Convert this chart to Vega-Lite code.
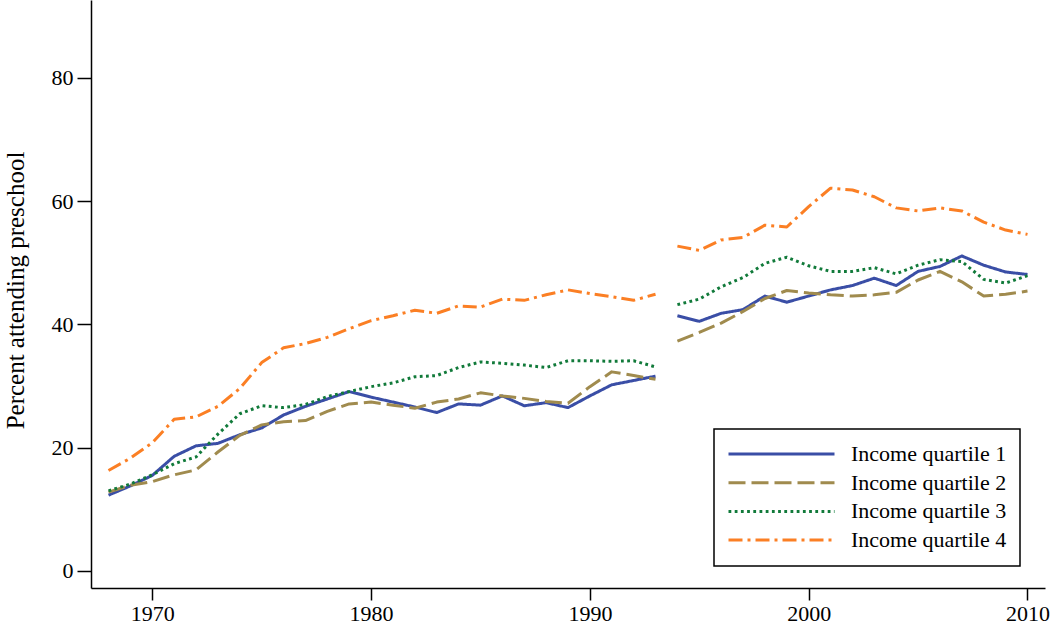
{
  "$schema": "https://vega.github.io/schema/vega-lite/v6.json",
  "width": 954,
  "height": 588,
  "autosize": {"type": "none"},
  "padding": {"left": 91, "top": 0, "right": 5, "bottom": 36},
  "background": "white",
  "config": {
    "view": {"stroke": null},
    "font": "Liberation Serif"
  },
  "data": {
    "values": [
      {"year":1968,"q":"Income quartile 1","period":1,"v":12.3},
      {"year":1969,"q":"Income quartile 1","period":1,"v":13.8},
      {"year":1970,"q":"Income quartile 1","period":1,"v":15.5},
      {"year":1971,"q":"Income quartile 1","period":1,"v":18.6},
      {"year":1972,"q":"Income quartile 1","period":1,"v":20.3},
      {"year":1973,"q":"Income quartile 1","period":1,"v":20.7},
      {"year":1974,"q":"Income quartile 1","period":1,"v":22.1},
      {"year":1975,"q":"Income quartile 1","period":1,"v":23.2},
      {"year":1976,"q":"Income quartile 1","period":1,"v":25.3},
      {"year":1977,"q":"Income quartile 1","period":1,"v":26.7},
      {"year":1978,"q":"Income quartile 1","period":1,"v":27.9},
      {"year":1979,"q":"Income quartile 1","period":1,"v":29.1},
      {"year":1980,"q":"Income quartile 1","period":1,"v":28.2},
      {"year":1981,"q":"Income quartile 1","period":1,"v":27.4},
      {"year":1982,"q":"Income quartile 1","period":1,"v":26.6},
      {"year":1983,"q":"Income quartile 1","period":1,"v":25.7},
      {"year":1984,"q":"Income quartile 1","period":1,"v":27.1},
      {"year":1985,"q":"Income quartile 1","period":1,"v":26.9},
      {"year":1986,"q":"Income quartile 1","period":1,"v":28.4},
      {"year":1987,"q":"Income quartile 1","period":1,"v":26.8},
      {"year":1988,"q":"Income quartile 1","period":1,"v":27.3},
      {"year":1989,"q":"Income quartile 1","period":1,"v":26.5},
      {"year":1990,"q":"Income quartile 1","period":1,"v":28.4},
      {"year":1991,"q":"Income quartile 1","period":1,"v":30.2},
      {"year":1992,"q":"Income quartile 1","period":1,"v":30.9},
      {"year":1993,"q":"Income quartile 1","period":1,"v":31.6},
      {"year":1994,"q":"Income quartile 1","period":2,"v":41.4},
      {"year":1995,"q":"Income quartile 1","period":2,"v":40.5},
      {"year":1996,"q":"Income quartile 1","period":2,"v":41.8},
      {"year":1997,"q":"Income quartile 1","period":2,"v":42.4},
      {"year":1998,"q":"Income quartile 1","period":2,"v":44.6},
      {"year":1999,"q":"Income quartile 1","period":2,"v":43.6},
      {"year":2000,"q":"Income quartile 1","period":2,"v":44.6},
      {"year":2001,"q":"Income quartile 1","period":2,"v":45.6},
      {"year":2002,"q":"Income quartile 1","period":2,"v":46.3},
      {"year":2003,"q":"Income quartile 1","period":2,"v":47.5},
      {"year":2004,"q":"Income quartile 1","period":2,"v":46.3},
      {"year":2005,"q":"Income quartile 1","period":2,"v":48.6},
      {"year":2006,"q":"Income quartile 1","period":2,"v":49.4},
      {"year":2007,"q":"Income quartile 1","period":2,"v":51.1},
      {"year":2008,"q":"Income quartile 1","period":2,"v":49.6},
      {"year":2009,"q":"Income quartile 1","period":2,"v":48.5},
      {"year":2010,"q":"Income quartile 1","period":2,"v":48.1},

      {"year":1968,"q":"Income quartile 2","period":1,"v":12.8},
      {"year":1969,"q":"Income quartile 2","period":1,"v":13.9},
      {"year":1970,"q":"Income quartile 2","period":1,"v":14.5},
      {"year":1971,"q":"Income quartile 2","period":1,"v":15.6},
      {"year":1972,"q":"Income quartile 2","period":1,"v":16.4},
      {"year":1973,"q":"Income quartile 2","period":1,"v":19.3},
      {"year":1974,"q":"Income quartile 2","period":1,"v":22.0},
      {"year":1975,"q":"Income quartile 2","period":1,"v":23.7},
      {"year":1976,"q":"Income quartile 2","period":1,"v":24.2},
      {"year":1977,"q":"Income quartile 2","period":1,"v":24.4},
      {"year":1978,"q":"Income quartile 2","period":1,"v":25.9},
      {"year":1979,"q":"Income quartile 2","period":1,"v":27.1},
      {"year":1980,"q":"Income quartile 2","period":1,"v":27.4},
      {"year":1981,"q":"Income quartile 2","period":1,"v":26.9},
      {"year":1982,"q":"Income quartile 2","period":1,"v":26.4},
      {"year":1983,"q":"Income quartile 2","period":1,"v":27.4},
      {"year":1984,"q":"Income quartile 2","period":1,"v":27.9},
      {"year":1985,"q":"Income quartile 2","period":1,"v":28.9},
      {"year":1986,"q":"Income quartile 2","period":1,"v":28.4},
      {"year":1987,"q":"Income quartile 2","period":1,"v":28.0},
      {"year":1988,"q":"Income quartile 2","period":1,"v":27.5},
      {"year":1989,"q":"Income quartile 2","period":1,"v":27.2},
      {"year":1990,"q":"Income quartile 2","period":1,"v":29.9},
      {"year":1991,"q":"Income quartile 2","period":1,"v":32.3},
      {"year":1992,"q":"Income quartile 2","period":1,"v":31.7},
      {"year":1993,"q":"Income quartile 2","period":1,"v":31.1},
      {"year":1994,"q":"Income quartile 2","period":2,"v":37.3},
      {"year":1995,"q":"Income quartile 2","period":2,"v":38.7},
      {"year":1996,"q":"Income quartile 2","period":2,"v":40.2},
      {"year":1997,"q":"Income quartile 2","period":2,"v":42.1},
      {"year":1998,"q":"Income quartile 2","period":2,"v":44.2},
      {"year":1999,"q":"Income quartile 2","period":2,"v":45.5},
      {"year":2000,"q":"Income quartile 2","period":2,"v":45.1},
      {"year":2001,"q":"Income quartile 2","period":2,"v":44.8},
      {"year":2002,"q":"Income quartile 2","period":2,"v":44.6},
      {"year":2003,"q":"Income quartile 2","period":2,"v":44.8},
      {"year":2004,"q":"Income quartile 2","period":2,"v":45.2},
      {"year":2005,"q":"Income quartile 2","period":2,"v":47.2},
      {"year":2006,"q":"Income quartile 2","period":2,"v":48.6},
      {"year":2007,"q":"Income quartile 2","period":2,"v":46.9},
      {"year":2008,"q":"Income quartile 2","period":2,"v":44.6},
      {"year":2009,"q":"Income quartile 2","period":2,"v":44.9},
      {"year":2010,"q":"Income quartile 2","period":2,"v":45.4},

      {"year":1968,"q":"Income quartile 3","period":1,"v":13.0},
      {"year":1969,"q":"Income quartile 3","period":1,"v":14.1},
      {"year":1970,"q":"Income quartile 3","period":1,"v":15.6},
      {"year":1971,"q":"Income quartile 3","period":1,"v":17.4},
      {"year":1972,"q":"Income quartile 3","period":1,"v":18.5},
      {"year":1973,"q":"Income quartile 3","period":1,"v":22.2},
      {"year":1974,"q":"Income quartile 3","period":1,"v":25.5},
      {"year":1975,"q":"Income quartile 3","period":1,"v":26.8},
      {"year":1976,"q":"Income quartile 3","period":1,"v":26.5},
      {"year":1977,"q":"Income quartile 3","period":1,"v":27.0},
      {"year":1978,"q":"Income quartile 3","period":1,"v":28.3},
      {"year":1979,"q":"Income quartile 3","period":1,"v":29.1},
      {"year":1980,"q":"Income quartile 3","period":1,"v":29.9},
      {"year":1981,"q":"Income quartile 3","period":1,"v":30.5},
      {"year":1982,"q":"Income quartile 3","period":1,"v":31.5},
      {"year":1983,"q":"Income quartile 3","period":1,"v":31.7},
      {"year":1984,"q":"Income quartile 3","period":1,"v":33.0},
      {"year":1985,"q":"Income quartile 3","period":1,"v":33.9},
      {"year":1986,"q":"Income quartile 3","period":1,"v":33.7},
      {"year":1987,"q":"Income quartile 3","period":1,"v":33.4},
      {"year":1988,"q":"Income quartile 3","period":1,"v":33.0},
      {"year":1989,"q":"Income quartile 3","period":1,"v":34.1},
      {"year":1990,"q":"Income quartile 3","period":1,"v":34.1},
      {"year":1991,"q":"Income quartile 3","period":1,"v":34.0},
      {"year":1992,"q":"Income quartile 3","period":1,"v":34.1},
      {"year":1993,"q":"Income quartile 3","period":1,"v":33.1},
      {"year":1994,"q":"Income quartile 3","period":2,"v":43.2},
      {"year":1995,"q":"Income quartile 3","period":2,"v":44.1},
      {"year":1996,"q":"Income quartile 3","period":2,"v":46.1},
      {"year":1997,"q":"Income quartile 3","period":2,"v":47.6},
      {"year":1998,"q":"Income quartile 3","period":2,"v":49.9},
      {"year":1999,"q":"Income quartile 3","period":2,"v":50.9},
      {"year":2000,"q":"Income quartile 3","period":2,"v":49.5},
      {"year":2001,"q":"Income quartile 3","period":2,"v":48.6},
      {"year":2002,"q":"Income quartile 3","period":2,"v":48.6},
      {"year":2003,"q":"Income quartile 3","period":2,"v":49.2},
      {"year":2004,"q":"Income quartile 3","period":2,"v":48.2},
      {"year":2005,"q":"Income quartile 3","period":2,"v":49.6},
      {"year":2006,"q":"Income quartile 3","period":2,"v":50.5},
      {"year":2007,"q":"Income quartile 3","period":2,"v":50.2},
      {"year":2008,"q":"Income quartile 3","period":2,"v":47.3},
      {"year":2009,"q":"Income quartile 3","period":2,"v":46.7},
      {"year":2010,"q":"Income quartile 3","period":2,"v":47.9},

      {"year":1968,"q":"Income quartile 4","period":1,"v":16.3},
      {"year":1969,"q":"Income quartile 4","period":1,"v":18.3},
      {"year":1970,"q":"Income quartile 4","period":1,"v":20.8},
      {"year":1971,"q":"Income quartile 4","period":1,"v":24.6},
      {"year":1972,"q":"Income quartile 4","period":1,"v":25.0},
      {"year":1973,"q":"Income quartile 4","period":1,"v":26.7},
      {"year":1974,"q":"Income quartile 4","period":1,"v":29.6},
      {"year":1975,"q":"Income quartile 4","period":1,"v":33.8},
      {"year":1976,"q":"Income quartile 4","period":1,"v":36.2},
      {"year":1977,"q":"Income quartile 4","period":1,"v":36.9},
      {"year":1978,"q":"Income quartile 4","period":1,"v":37.9},
      {"year":1979,"q":"Income quartile 4","period":1,"v":39.3},
      {"year":1980,"q":"Income quartile 4","period":1,"v":40.6},
      {"year":1981,"q":"Income quartile 4","period":1,"v":41.4},
      {"year":1982,"q":"Income quartile 4","period":1,"v":42.3},
      {"year":1983,"q":"Income quartile 4","period":1,"v":41.8},
      {"year":1984,"q":"Income quartile 4","period":1,"v":43.0},
      {"year":1985,"q":"Income quartile 4","period":1,"v":42.8},
      {"year":1986,"q":"Income quartile 4","period":1,"v":44.1},
      {"year":1987,"q":"Income quartile 4","period":1,"v":43.9},
      {"year":1988,"q":"Income quartile 4","period":1,"v":44.8},
      {"year":1989,"q":"Income quartile 4","period":1,"v":45.6},
      {"year":1990,"q":"Income quartile 4","period":1,"v":45.0},
      {"year":1991,"q":"Income quartile 4","period":1,"v":44.5},
      {"year":1992,"q":"Income quartile 4","period":1,"v":43.9},
      {"year":1993,"q":"Income quartile 4","period":1,"v":44.9},
      {"year":1994,"q":"Income quartile 4","period":2,"v":52.7},
      {"year":1995,"q":"Income quartile 4","period":2,"v":52.0},
      {"year":1996,"q":"Income quartile 4","period":2,"v":53.7},
      {"year":1997,"q":"Income quartile 4","period":2,"v":54.1},
      {"year":1998,"q":"Income quartile 4","period":2,"v":56.1},
      {"year":1999,"q":"Income quartile 4","period":2,"v":55.8},
      {"year":2000,"q":"Income quartile 4","period":2,"v":59.1},
      {"year":2001,"q":"Income quartile 4","period":2,"v":62.1},
      {"year":2002,"q":"Income quartile 4","period":2,"v":61.8},
      {"year":2003,"q":"Income quartile 4","period":2,"v":60.7},
      {"year":2004,"q":"Income quartile 4","period":2,"v":58.9},
      {"year":2005,"q":"Income quartile 4","period":2,"v":58.4},
      {"year":2006,"q":"Income quartile 4","period":2,"v":58.9},
      {"year":2007,"q":"Income quartile 4","period":2,"v":58.4},
      {"year":2008,"q":"Income quartile 4","period":2,"v":56.6},
      {"year":2009,"q":"Income quartile 4","period":2,"v":55.3},
      {"year":2010,"q":"Income quartile 4","period":2,"v":54.6}
    ]
  },
  "mark": {"type": "line", "strokeWidth": 3, "strokeCap": "butt", "strokeJoin": "round"},
  "encoding": {
    "x": {
      "field": "year", "type": "quantitative",
      "scale": {"domain": [1967.2, 2010.8], "nice": false, "zero": false},
      "axis": {
        "values": [1970, 1980, 1990, 2000, 2010], "format": "d", "grid": false, "title": null,
        "tickSize": 12, "tickWidth": 1.5, "tickColor": "black",
        "domainColor": "black", "domainWidth": 1.5,
        "labelFont": "Liberation Serif", "labelFontSize": 22, "labelColor": "black", "labelPadding": 3,
        "labelFlush": false
      }
    },
    "y": {
      "field": "v", "type": "quantitative",
      "scale": {"domain": [-2.76, 92.62], "nice": false, "zero": false},
      "axis": {
        "values": [0, 20, 40, 60, 80], "grid": false,
        "title": "Percent attending preschool",
        "tickSize": 14, "tickWidth": 1.5, "tickColor": "black",
        "domainColor": "black", "domainWidth": 1.5,
        "labelFont": "Liberation Serif", "labelFontSize": 22, "labelColor": "black", "labelPadding": 4,
        "labelFlush": false,
        "titleFont": "Liberation Serif", "titleFontSize": 25, "titleFontWeight": "normal", "titleColor": "black",
        "titleAngle": -90, "titleAlign": "center", "titleBaseline": "alphabetic",
        "titleX": -68, "titleY": 290
      }
    },
    "color": {
      "field": "q", "type": "nominal",
      "scale": {
        "domain": ["Income quartile 1", "Income quartile 2", "Income quartile 3", "Income quartile 4"],
        "range": ["#3a4ea6", "#a08b4e", "#117a3a", "#fb7f24"]
      },
      "legend": {
        "title": null, "orient": "none", "legendX": 623, "legendY": 429,
        "symbolType": "stroke", "symbolSize": 11236, "symbolStrokeWidth": 3,
        "labelFont": "Liberation Serif", "labelFontSize": 22, "labelColor": "black",
        "labelOffset": 15, "padding": 13, "rowPadding": 4.7, "clipHeight": 24,
        "strokeColor": "black", "fillColor": "white",
        "encode": {"legend": {"update": {"strokeWidth": {"value": 1.5}}}}
      }
    },
    "strokeDash": {
      "field": "q", "type": "nominal",
      "scale": {
        "domain": ["Income quartile 1", "Income quartile 2", "Income quartile 3", "Income quartile 4"],
        "range": [[1, 0], [17, 6], [2.8, 3.4], [14, 5, 3, 5]]
      },
      "legend": {
        "title": null, "orient": "none", "legendX": 623, "legendY": 429,
        "symbolType": "stroke", "symbolSize": 11236, "symbolStrokeWidth": 3,
        "labelFont": "Liberation Serif", "labelFontSize": 22, "labelColor": "black",
        "labelOffset": 15, "padding": 13, "rowPadding": 4.7, "clipHeight": 24,
        "strokeColor": "black", "fillColor": "white",
        "encode": {"legend": {"update": {"strokeWidth": {"value": 1.5}}}}
      }
    },
    "detail": {"field": "period", "type": "nominal"}
  }
}
